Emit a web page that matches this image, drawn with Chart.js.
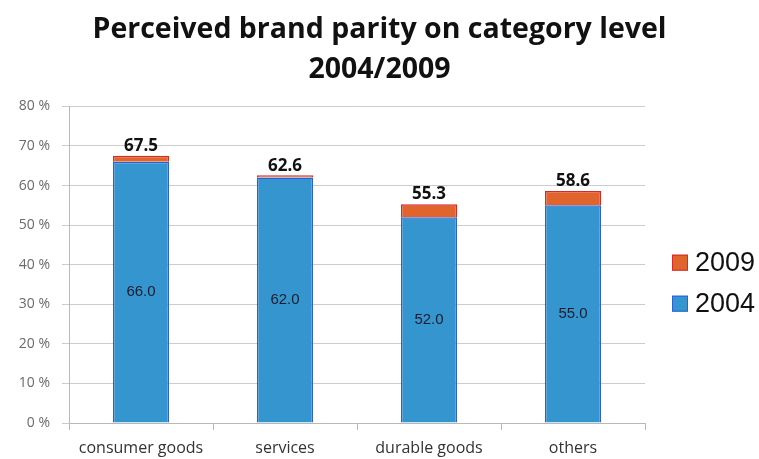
<!DOCTYPE html>
<html>
  <head>
    <title>Brand parity</title>
    <script src="https://cdn.jsdelivr.net/npm/chart.js"></script>
    <style>
      body { margin: 0; background: #ffffff; }
      #wrap { width: 759px; height: 459px; }
    </style>
  </head>

  <body>
    <div id="wrap">
      <canvas id="parity"></canvas>
    </div>

    <script>
      var categorias = ["consumer goods", "services", "durable goods", "others"];
      var valores2004 = [66.0, 62.0, 52.0, 55.0];
      var totais2009 = [67.5, 62.6, 55.3, 58.6];
      var ticksY = [0, 10, 20, 30, 40, 50, 60, 70, 80];

      // the 2009 segment sits on top of 2004, so its height is the difference
      var acrescimo2009 = totais2009.map((t, i) => +(t - valores2004[i]).toFixed(1));

      // value labels: 2004 inside the blue bar, 2009 total above the stack
      var rotulos = {
        id: "rotulos",
        afterDatasetsDraw(chart) {
          var ctx = chart.ctx;
          var meta04 = chart.getDatasetMeta(0);
          var meta09 = chart.getDatasetMeta(1);
          ctx.save();
          ctx.textAlign = "center";
          ctx.fillStyle = "#1c1c30";
          meta04.data.forEach((bar, i) => {
            ctx.font = "15px 'Liberation Sans'";
            ctx.textBaseline = "middle";
            ctx.fillText(valores2004[i].toFixed(1), bar.x, (bar.y + bar.base) / 2);
          });
          ctx.fillStyle = "#111111";
          meta09.data.forEach((bar, i) => {
            ctx.font = "bold 17px 'Open Sans'";
            ctx.textBaseline = "bottom";
            ctx.fillText(totais2009[i].toFixed(1), bar.x, bar.y - 1);
          });
          ctx.restore();
        },
      };

      // legend on the right, 2009 above 2004
      var legenda = {
        id: "legenda",
        afterDraw(chart) {
          var ctx = chart.ctx;
          var area = chart.chartArea;
          var meio = (area.top + area.bottom) / 2;
          var x = area.right + 27;
          var itens = chart.data.datasets.slice().reverse();
          ctx.save();
          ctx.font = "27px 'Liberation Sans'";
          ctx.textBaseline = "middle";
          ctx.textAlign = "left";
          itens.forEach((ds, i) => {
            var y = meio - 2 + i * 41;
            ctx.fillStyle = ds.backgroundColor;
            ctx.fillRect(x, y - 8, 16, 16);
            ctx.strokeStyle = ds.borderColor;
            ctx.lineWidth = 1;
            ctx.strokeRect(x + 0.5, y - 7.5, 15, 15);
            ctx.fillStyle = "#111111";
            ctx.fillText(ds.label, x + 23, y + 1);
          });
          ctx.restore();
        },
      };

      var grafico = new Chart(document.getElementById("parity").getContext("2d"), {
        type: "bar",
        data: {
          labels: categorias,
          datasets: [
            {
              label: "2004",
              data: valores2004,
              backgroundColor: "#3595ce",
              borderColor: "#2f5fd6",
              borderWidth: 1.5,
              stack: "s",
            },
            {
              label: "2009",
              data: acrescimo2009,
              backgroundColor: "#e0642c",
              borderColor: "#d42a2a",
              borderWidth: 1.5,
              stack: "s",
            },
          ],
        },
        options: {
          responsive: true,
          maintainAspectRatio: false,
          animation: false,
          datasets: { bar: { categoryPercentage: 1, barPercentage: 0.39 } },
          layout: { padding: { left: 0, right: 0, top: 10, bottom: 0 } },
          plugins: {
            title: {
              display: true,
              text: ["Perceived brand parity on category level", "2004/2009"],
              font: { family: "'Open Sans'", size: 28.5, weight: "bold", lineHeight: 1.41 },
              color: "#111111",
              padding: { top: 0, bottom: 16 },
            },
            legend: { display: false },
            tooltip: { enabled: false },
          },
          scales: {
            x: {
              stacked: true,
              afterFit(axis) {
                axis.height = 36;
              },
              grid: { display: true, drawOnChartArea: false, tickLength: 7, color: "#b8b8b8" },
              border: { color: "#b8b8b8" },
              ticks: {
                font: { family: "'Open Sans'", size: 16 },
                color: "#333333",
                padding: 9,
              },
            },
            y: {
              stacked: true,
              min: 0,
              max: 80,
              afterBuildTicks(axis) {
                axis.ticks = ticksY.map((v) => ({ value: v }));
              },
              afterFit(axis) {
                axis.width = 69;
              },
              grid: { color: "#cccccc", tickLength: 7 },
              border: { color: "#b8b8b8" },
              ticks: {
                callback: (v) => v + " %",
                font: { family: "'Open Sans'", size: 14 },
                color: "#6a6a6a",
                padding: 12,
              },
            },
            // empty right axis: only reserves the column where the legend goes
            espaco: {
              position: "right",
              display: true,
              min: 0,
              max: 80,
              afterFit(axis) {
                axis.width = 114;
              },
              grid: { display: false },
              border: { display: false },
              ticks: { display: false },
            },
          },
        },
        plugins: [rotulos, legenda],
      });
    </script>
  </body>
</html>
